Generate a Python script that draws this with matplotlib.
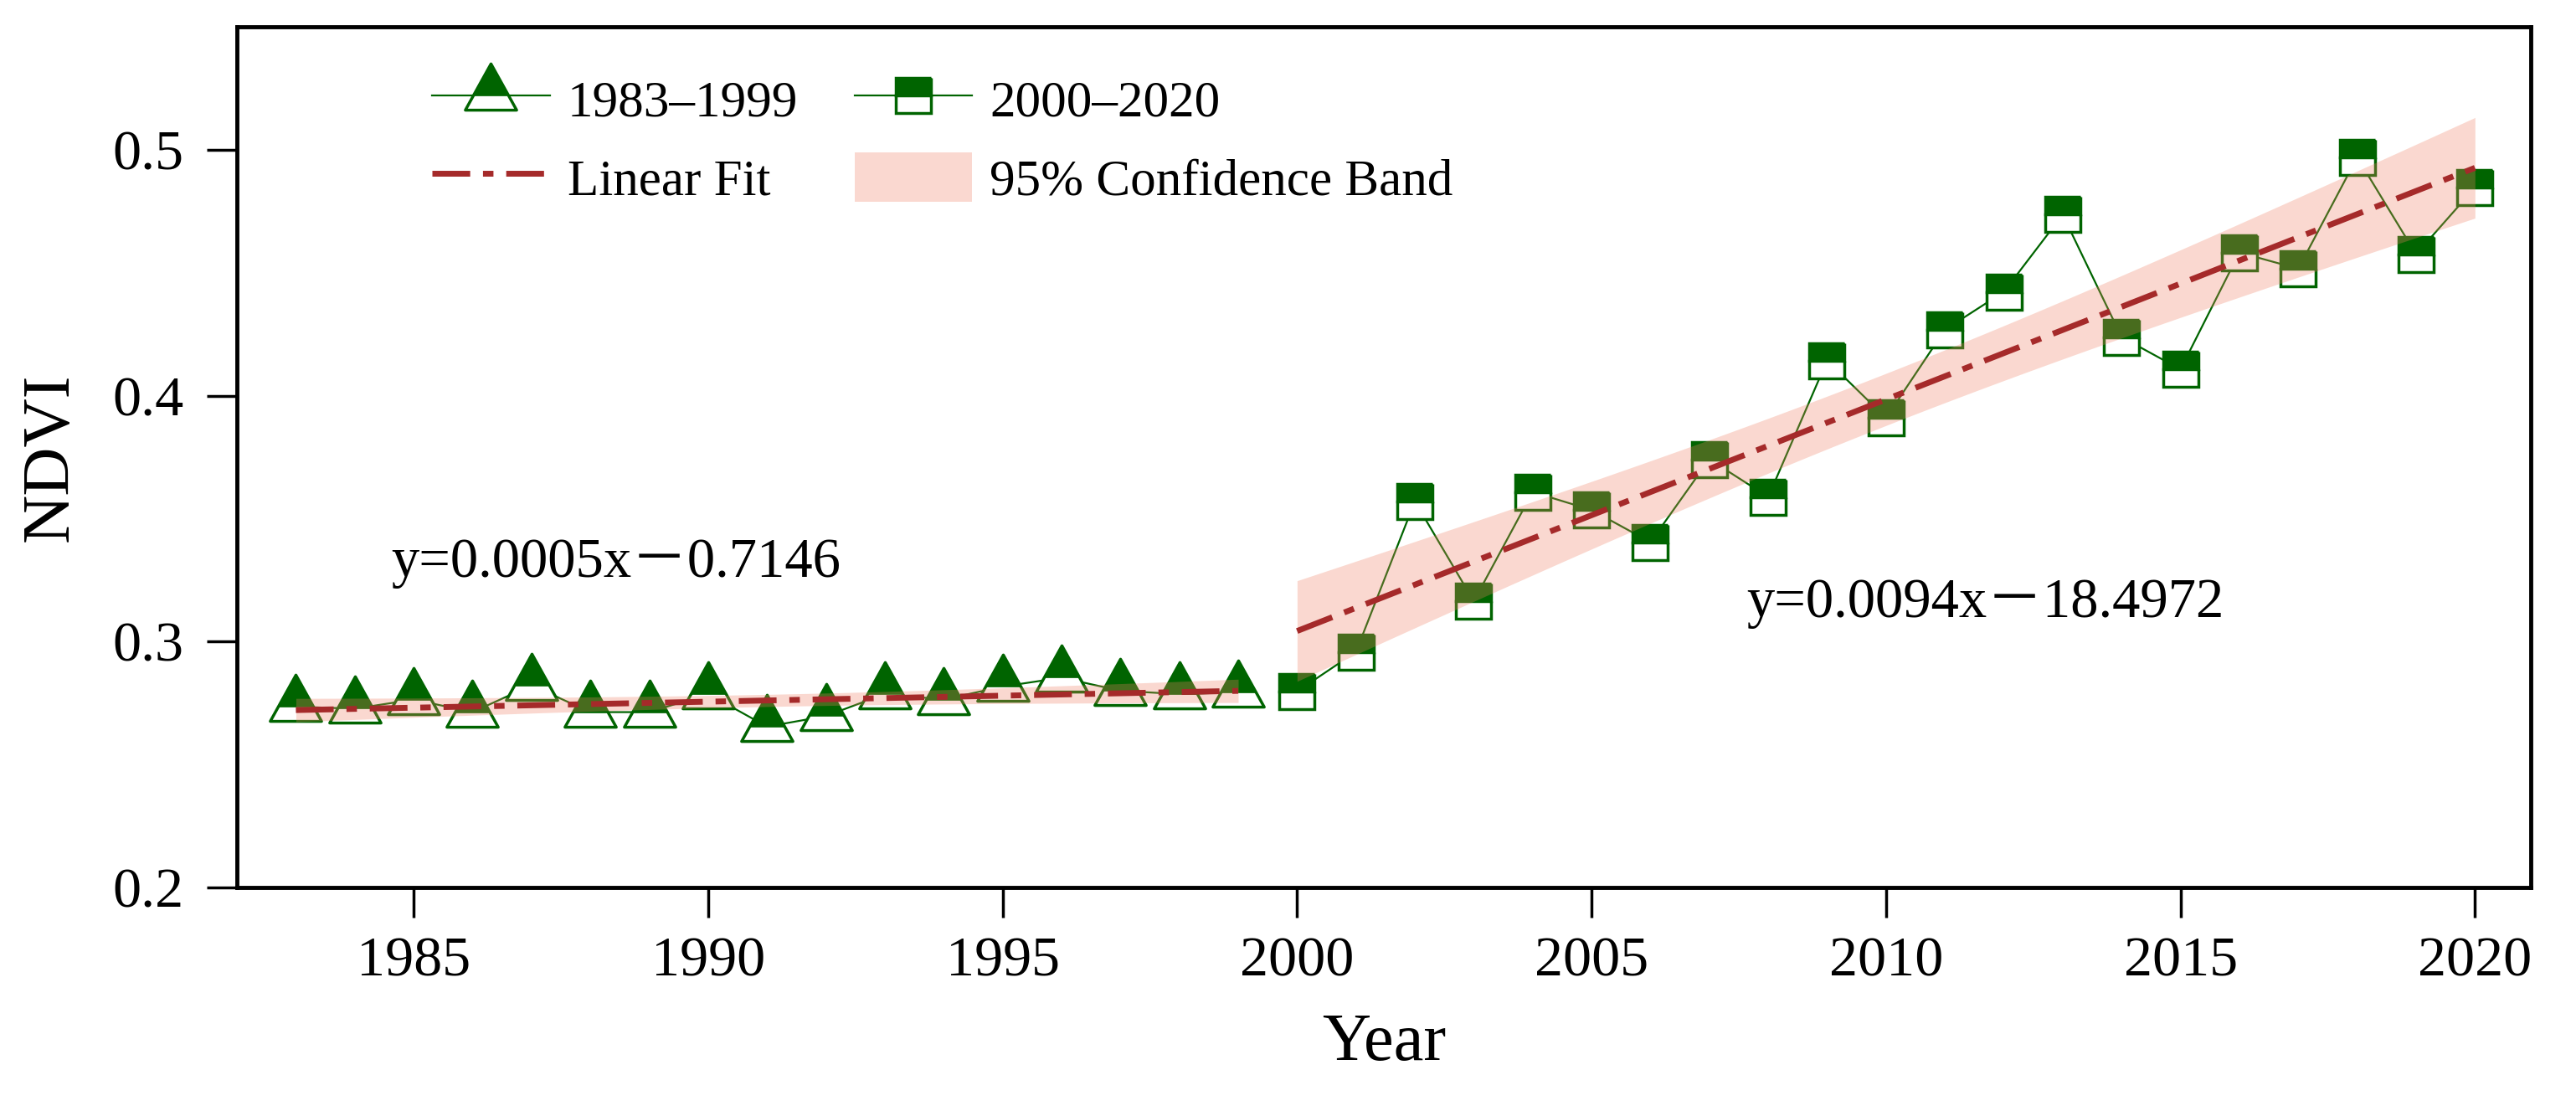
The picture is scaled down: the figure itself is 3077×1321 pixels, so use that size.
import matplotlib
matplotlib.use('Agg')
import matplotlib.pyplot as plt
import numpy as np
from matplotlib.path import Path
from matplotlib.legend_handler import HandlerTuple

plt.rcParams['font.family'] = ['Liberation Serif', 'Noto Sans CJK SC']
plt.rcParams['axes.unicode_minus'] = False

# NDVI values
years_1 = list(range(1983, 2000))
ndvi_1 = [0.2735, 0.2727, 0.2764, 0.2713, 0.2822, 0.2713, 0.2713, 0.2787, 0.2654,
          0.2697, 0.2787, 0.2764, 0.2817, 0.2853, 0.2800, 0.2786, 0.2794]

years_2 = list(range(2000, 2021))
ndvi_2 = [0.2797, 0.2958, 0.3570, 0.3164, 0.3608, 0.3535, 0.3404, 0.3741, 0.3588,
          0.4143, 0.3909, 0.4268, 0.4422, 0.4736, 0.4238, 0.4107, 0.4582, 0.4516,
          0.4969, 0.4575, 0.4846]

labels = ['1983\u20131999', '2000\u20132020', 'Linear Fit', '95% Confidence Band']
eq_1 = 'y=0.0005x\uff0d0.7146'
eq_2 = 'y=0.0094x\uff0d18.4972'
x_ticks = [1985, 1990, 1995, 2000, 2005, 2010, 2015, 2020]
y_ticks = [0.2, 0.3, 0.4, 0.5]

# t critical values (95%, two sided) for n-2 degrees of freedom
t_crit = {15: 2.1314, 19: 2.0930}

green = '#006400'
band_color = '#f08064'
fit_color = '#a52a2a'


def fit_band(x, y):
    x = np.asarray(x, float)
    y = np.asarray(y, float)
    n = len(x)
    k, b = np.polyfit(x, y, 1)
    resid = y - (k * x + b)
    s = np.sqrt(np.sum(resid ** 2) / (n - 2))
    xs = np.linspace(x[0], x[-1], 200)
    se = s * np.sqrt(1 / n + (xs - x.mean()) ** 2 / np.sum((x - x.mean()) ** 2))
    yf = k * xs + b
    t = t_crit[n - 2]
    return xs, yf, yf - t * se, yf + t * se


# triangle whose data point sits on the fill split (as in the original)
tri_full = Path([(-30.5, -17), (30.5, -17), (0, 38), (-30.5, -17)], closed=True)
tri_top = Path([(-21.1, 0), (21.1, 0), (0, 38), (-21.1, 0)], closed=True)

fig = plt.figure(figsize=(30.77, 13.21), dpi=100)
ax = fig.add_axes([0.092, 0.1976, 0.8905, 0.7782])

l1, = ax.plot(years_1, ndvi_1, color=green, lw=1.6, marker=tri_full, ms=55,
              mfc='white', mec=green, mew=2.5, zorder=2)
l1t, = ax.plot(years_1, ndvi_1, ls='none', marker=tri_top, ms=55,
               mfc=green, mec=green, mew=0.5, zorder=2)
l2, = ax.plot(years_2, ndvi_2, color=green, lw=1.6, marker='s', ms=30,
              fillstyle='top', mfc=green, mfcalt='white', mec=green, mew=2.5,
              zorder=2)

for xx, yy in [(years_1, ndvi_1), (years_2, ndvi_2)]:
    xs, yf, lo, hi = fit_band(xx, yy)
    band = ax.fill_between(xs, lo, hi, color=band_color, alpha=0.3, lw=0,
                           zorder=3)
    fit, = ax.plot(xs, yf, color=fit_color, lw=5, dashes=(6.5, 2.2, 1.8, 2.2),
                   zorder=4)

ax.text(1984.62, 0.3262, eq_1, fontsize=48, ha='left', va='baseline')
ax.text(2007.63, 0.3100, eq_2, fontsize=48, ha='left', va='baseline')

ax.set_xlim(1982.0, 2020.95)
ax.set_ylim(0.2, 0.55)
ax.set_xticks(x_ticks)
ax.set_yticks(y_ticks)
ax.set_yticklabels([f'{v:.1f}' for v in y_ticks])
ax.tick_params(axis='both', direction='out', length=26, width=2.5,
               labelsize=49)
ax.tick_params(axis='x', pad=16)
ax.tick_params(axis='y', pad=20)
for sp in ax.spines.values():
    sp.set_linewidth(3.5)

ax.set_xlabel('Year', fontsize=58, labelpad=22)
ax.set_ylabel('NDVI', fontsize=58, labelpad=26)

leg = ax.legend([(l1, l1t), fit, l2, band],
                [labels[0], labels[2], labels[1], labels[3]],
                handler_map={tuple: HandlerTuple(ndivide=1)},
                ncol=2, loc='upper left', bbox_to_anchor=(0.085, 0.945),
                frameon=False, fontsize=44, handlelength=2.3, handleheight=1.1,
                handletextpad=0.35, columnspacing=1.1, labelspacing=0.5,
                borderpad=0, borderaxespad=0)

fig.savefig('out.png', dpi=100)
